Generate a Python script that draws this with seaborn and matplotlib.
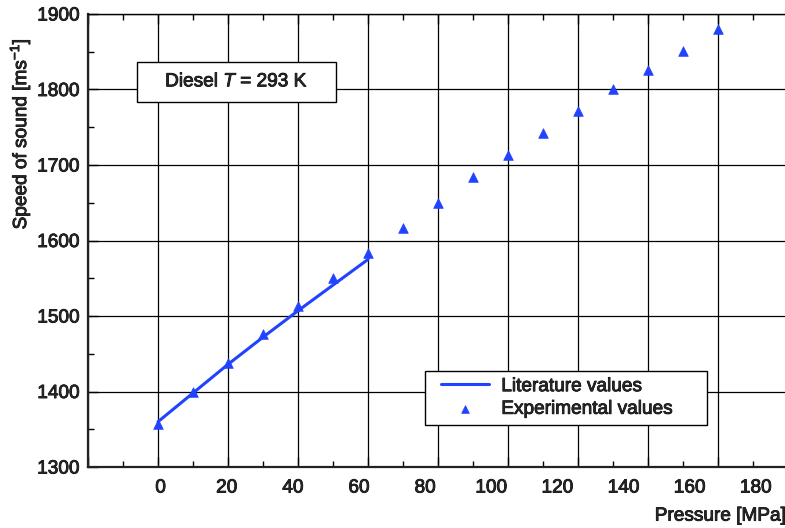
import numpy as np
import matplotlib
matplotlib.use("Agg")
import matplotlib.pyplot as plt
import matplotlib.patheffects as pe
import seaborn as sns
from matplotlib.patches import Rectangle
from matplotlib.ticker import MultipleLocator
from matplotlib.legend_handler import HandlerLine2D, HandlerPathCollection
from matplotlib.collections import PathCollection
from matplotlib.lines import Line2D

# ---------- DATA ---------- #
pressure_exp = [0, 10, 20, 30, 40, 50, 60, 70, 80, 90, 100, 110, 120, 130, 140, 150, 160]
speed_exp = [1357, 1399, 1438, 1476, 1513, 1550, 1583, 1617, 1650, 1684,
             1713, 1742, 1771, 1801, 1826, 1851, 1880]
pressure_lit = [0, 10, 20, 30, 40, 50, 60]
speed_lit = [1360, 1398, 1436, 1472, 1507, 1541, 1575]
x_tick_values = [0, 20, 40, 60, 80, 100, 120, 140, 160, 180]
# -------------------------- #

blue = "#2142ff"
fs = 13.7

sns.set_style("ticks")
plt.rcParams["font.family"] = ["Liberation Sans", "DejaVu Sans"]
plt.rcParams["mathtext.fontset"] = "custom"
plt.rcParams["mathtext.rm"] = "Liberation Sans"
plt.rcParams["mathtext.it"] = "Liberation Sans:italic"
plt.rcParams["mathtext.default"] = "regular"

fig = plt.figure(figsize=(7.85, 5.28), dpi=100)
ax = fig.add_axes([0.1121, 0.1155, 0.8879, 0.858])

sns.lineplot(x=pressure_lit, y=speed_lit, color=blue, linewidth=2.2, ax=ax,
             label="Literature values", zorder=3)
sns.scatterplot(x=pressure_exp, y=speed_exp, marker="^", s=48, color=blue,
                edgecolor=blue, linewidth=0.5, ax=ax, label="Experimental values", zorder=4)

ax.set_xlim(-20, 179.1)
ax.set_ylim(1300, 1900)
ax.xaxis.set_major_locator(MultipleLocator(20))
ax.xaxis.set_minor_locator(MultipleLocator(10))
ax.yaxis.set_major_locator(MultipleLocator(100))
ax.yaxis.set_minor_locator(MultipleLocator(50))
ax.grid(which="major", color="black", linewidth=0.9)
ax.tick_params(which="both", direction="in", top=True, right=False,
               labelbottom=False, color="black", width=1)
ax.tick_params(which="major", length=7)
ax.tick_params(which="minor", length=4)
ax.tick_params(axis="y", labelsize=fs, pad=6)
ax.spines["right"].set_visible(False)
for s in ["left", "bottom"]:
    ax.spines[s].set_linewidth(1.6)
    ax.spines[s].set_color("#222222")
ax.spines["top"].set_linewidth(1.0)
ax.spines["top"].set_color("black")

# tick labels of the pressure axis sit on a slightly different scale
def to_label(x):
    return (np.asarray(x) - 0.743) / 0.9446

def to_grid(v):
    return 0.743 + 0.9446 * np.asarray(v)

sec = ax.secondary_xaxis("bottom", functions=(to_label, to_grid))
sec.set_xticks(x_tick_values)
sec.tick_params(length=0, labelsize=fs, pad=9)
sec.spines["bottom"].set_visible(False)
sec.set_xlabel("Pressure [MPa]", loc="right", fontsize=fs, labelpad=8)

ax.set_ylabel("Speed of sound [ms$^{-1}$]", fontsize=fs)
ax.yaxis.set_label_coords(-0.080, 0.735)

# text box
ax.add_patch(Rectangle((0.0703, 0.8057), 0.2855, 0.0883, transform=ax.transAxes,
                       facecolor="white", edgecolor="black", linewidth=1.0, zorder=5))
box_txt = ax.text(0.213, 0.85, r"Diesel $\mathit{T}$ = 293 K", transform=ax.transAxes,
                  fontsize=fs, ha="center", va="center", zorder=6)

hmap = {Line2D: HandlerLine2D(xpad=0.47), PathCollection: HandlerPathCollection(xpad=0.47)}
leg = ax.legend(loc="lower left", bbox_to_anchor=(0.4835, 0.0927, 0.4046, 0.1),
                mode="expand", borderaxespad=0, fontsize=fs, frameon=True,
                fancybox=False, edgecolor="black", framealpha=1,
                handlelength=3.0, handletextpad=0.63, labelspacing=0.28,
                borderpad=0.38, markerscale=0.8, handler_map=hmap)
leg.get_frame().set_linewidth(1.0)
leg.set_zorder(6)

# slightly heavier text like the original
heavy = [pe.withStroke(linewidth=0.6, foreground="black")]
texts = (ax.get_yticklabels() + sec.get_xticklabels() + leg.get_texts()
         + [box_txt, ax.yaxis.label, sec.xaxis.label])
for t in texts:
    t.set_path_effects(heavy)

fig.savefig("out.png", dpi=100)
